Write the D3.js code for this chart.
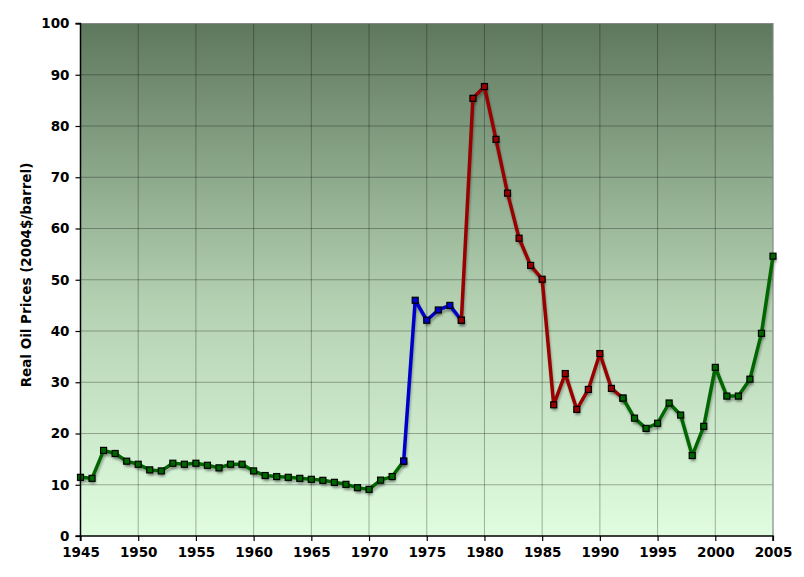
<!DOCTYPE html>
<html><head><meta charset="utf-8">
<script src="https://cdn.jsdelivr.net/npm/d3@7"></script>
<style>body{margin:0;background:#fff}svg{display:block}text{font-family:"DejaVu Sans",Verdana,sans-serif;font-weight:bold}</style>
</head><body><svg id="c" width="804" height="577"></svg>
<script>
const years = d3.range(1945, 2006);
const prices = [11.45,11.25,16.7,16.1,14.6,14.0,12.9,12.7,14.2,14.0,
  14.2,13.8,13.3,14.0,14.0,12.7,11.8,11.6,11.45,11.25,
  11.06,10.86,10.47,10.08,9.43,9.1,10.9,11.6,14.6,46.0,
  42.1,44.1,45.0,42.1,85.4,87.7,77.4,66.9,58.1,52.8,
  50.1,25.6,31.7,24.7,28.6,35.6,28.8,26.9,23.0,21.0,
  22.0,25.95,23.6,15.7,21.4,32.9,27.3,27.3,30.6,39.55,54.6];
const segments = [
  {from:1945, to:1973, color:"#006600"},
  {from:1973, to:1978, color:"#0000cc"},
  {from:1978, to:1992, color:"#990000"},
  {from:1992, to:2005, color:"#006600"}
];
const xTicks = d3.range(1945, 2006, 5);
const yTicks = d3.range(0, 101, 10);
const yLabel = "Real Oil Prices (2004$/barrel)";

const svg = d3.select("#c");
const L = 80.5, R = 773, T = 23.5, B = 536;
const x = d3.scaleLinear().domain([1945, 2005]).range([L, R]);
const y = d3.scaleLinear().domain([0, 100]).range([B, T]);
const data = years.map((yr, i) => ({yr, v: prices[i]}));

const defs = svg.append("defs");
const grad = defs.append("linearGradient").attr("id","bg").attr("x1",0).attr("y1",0).attr("x2",0).attr("y2",1);
grad.append("stop").attr("offset","0%").attr("stop-color","#5e785e");
grad.append("stop").attr("offset","55%").attr("stop-color","#b4d2b2");
grad.append("stop").attr("offset","100%").attr("stop-color","#e0fde0");
const f = defs.append("filter").attr("id","sh").attr("x","-10%").attr("y","-10%").attr("width","120%").attr("height","120%");
f.append("feGaussianBlur").attr("stdDeviation",0.8);

svg.append("rect").attr("x",L).attr("y",T).attr("width",R-L).attr("height",B-T).attr("fill","url(#bg)");

// grid
svg.append("g").selectAll("line").data(xTicks.slice(1,-1)).join("line")
  .attr("x1",d=>x(d)).attr("x2",d=>x(d)).attr("y1",T).attr("y2",B)
  .attr("stroke","rgba(0,0,0,0.3)").attr("stroke-width",1);
svg.append("g").selectAll("line").data(yTicks.slice(1,-1)).join("line")
  .attr("y1",d=>y(d)).attr("y2",d=>y(d)).attr("x1",L).attr("x2",R)
  .attr("stroke","rgba(0,0,0,0.3)").attr("stroke-width",1);

// border top/right
svg.append("path").attr("d",`M${L},${T}H${R}V${B}`).attr("fill","none").attr("stroke","#888").attr("stroke-width",1.2);

const line = d3.line().x(d=>x(d.yr)).y(d=>y(d.v));
// shadows
segments.forEach(s => {
  const seg = data.filter(d => d.yr >= s.from && d.yr <= s.to);
  svg.append("path").datum(seg).attr("d", line).attr("fill","none")
    .attr("stroke","rgba(0,0,0,0.28)").attr("stroke-width",3.5).attr("stroke-linejoin","round")
    .attr("transform","translate(1,3)").attr("filter","url(#sh)");
  svg.append("g").attr("filter","url(#sh)").selectAll("rect").data(seg).join("rect")
    .attr("x",d=>x(d.yr)-3+1).attr("y",d=>y(d.v)-3+3).attr("width",6).attr("height",6)
    .attr("fill","rgba(0,0,0,0.25)");
});
segments.forEach(s => {
  const seg = data.filter(d => d.yr >= s.from && d.yr <= s.to);
  svg.append("path").datum(seg).attr("d", line).attr("fill","none")
    .attr("stroke",s.color).attr("stroke-width",3.5).attr("stroke-linejoin","round");
  svg.append("g").selectAll("rect").data(seg).join("rect")
    .attr("x",d=>x(d.yr)-3).attr("y",d=>y(d.v)-3).attr("width",6).attr("height",6)
    .attr("fill",s.color).attr("stroke","#000").attr("stroke-width",1.2);
});

// axes
const ax = svg.append("g").attr("transform",`translate(0,${B})`)
  .call(d3.axisBottom(x).tickValues(xTicks).tickFormat(d3.format("d")).tickSize(5).tickPadding(6));
const ay = svg.append("g").attr("transform",`translate(${L},0)`)
  .call(d3.axisLeft(y).tickValues(yTicks).tickSize(5).tickPadding(6));
[ax, ay].forEach(a => {
  a.select(".domain").attr("stroke","#000").attr("stroke-width",1.5);
  a.selectAll(".tick line").attr("stroke","#000").attr("stroke-width",1.2);
  a.selectAll("text").attr("font-size",13.5).attr("font-family","'DejaVu Sans',Verdana,sans-serif").attr("font-weight","bold").attr("fill","#000");
});
ay.select(".domain").attr("d",`M-5,${B}H0V${T}H-5`);
ax.select(".domain").attr("d",`M${L},5V0H${R}V5`);

svg.append("text").attr("transform","translate(31,275) rotate(-90)").attr("text-anchor","middle")
  .attr("font-size",13.5).attr("fill","#000").text(yLabel);
</script></body></html>
